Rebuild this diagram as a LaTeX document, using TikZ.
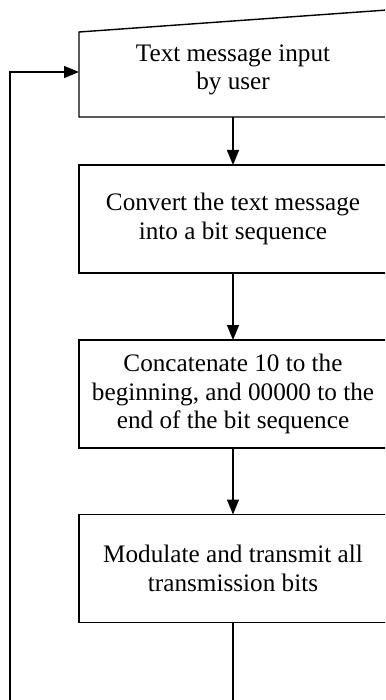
\documentclass[tikz,border=0pt]{standalone}
\usepackage{fontspec}
\setmainfont{Liberation Serif}
\usetikzlibrary{arrows.meta}
\begin{document}
\begin{tikzpicture}[x=1pt,y=1pt,
  box/.style={draw, line width=1.4pt, minimum width=308pt, inner sep=0pt, outer sep=0pt},
  txt/.style={align=center, inner sep=0pt, font=\fontsize{25.2}{28.4}\selectfont},
  conn/.style={line width=1.4pt, -{Triangle[length=15pt,width=12pt]}},
  plain/.style={line width=1.4pt}]
\useasboundingbox (0,0) rectangle (385,-700);
\clip (0,0) rectangle (385,-700);
% box 1 (manual input)
\node[box, draw=none, minimum height=85pt] (b1) at (233,-74.5) {};
\node[txt] (t1) at (233,-70) {Text message input\\by user};
\coordinate (b1tr) at ([yshift=22pt]b1.north east);
\draw[line width=1.4pt, line join=miter] (b1.south west) -- (b1.south east) -- (b1tr) -- (b1.north west) -- cycle;
% other boxes
\node[box, minimum height=108pt, txt] (b2) at (233,-219) {Convert the text message\\into a bit sequence};
\node[box, minimum height=108pt, txt] (b3) at (233,-394) {Concatenate 10 to the\\beginning, and 00000 to the\\end of the bit sequence};
\node[box, minimum height=108pt, txt] (b4) at (233,-568.5) {Modulate and transmit all\\transmission bits};
% connectors
\draw[conn] (b1.south) -- (b2.north);
\draw[conn] (b2.south) -- (b3.north);
\draw[conn] (b3.south) -- (b4.north);
\coordinate (e1) at (233,-710);
\coordinate (e2) at (10,-710);
\draw[plain] (b4.south) -- (e1);
\draw[conn] (e2) |- ([yshift=2.5pt]b1.west);
\end{tikzpicture}
\end{document}
